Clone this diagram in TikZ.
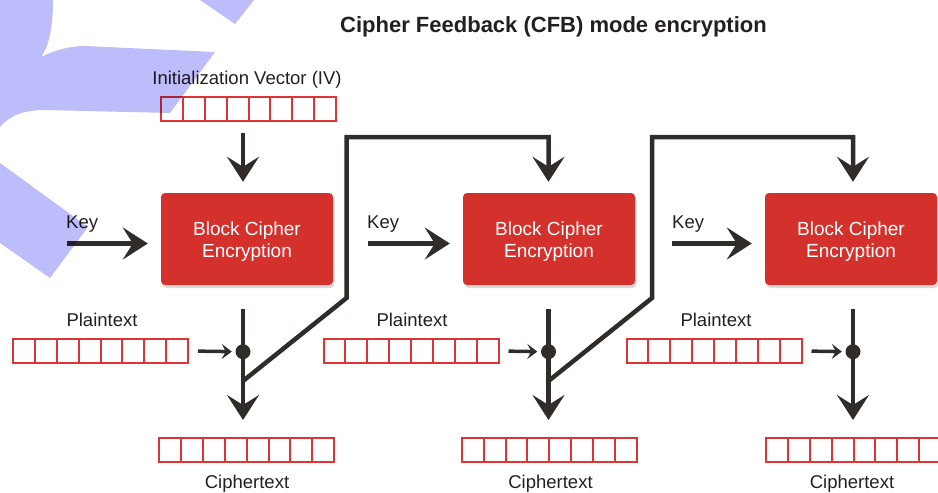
\documentclass[tikz,border=0pt]{standalone}
\usepackage{fontspec}
\setmainfont{Liberation Sans}
\usetikzlibrary{arrows.meta,shadows}
\definecolor{boxred}{RGB}{212,49,44}
\definecolor{regred}{RGB}{224,52,52}
\definecolor{ink}{RGB}{48,44,42}
\definecolor{txt}{RGB}{35,31,32}
\definecolor{wm}{RGB}{189,189,251}
\tikzset{
  register/.style={draw=regred, line width=2pt, minimum width=175pt, minimum height=24pt, inner sep=0pt,
    path picture={\foreach \i in {1,...,7}{\draw[regred,line width=2pt] ([xshift=\i*21.875pt]path picture bounding box.north west) -- ([xshift=\i*21.875pt]path picture bounding box.south west);}}},
  cipherbox/.style={fill=boxred, rounded corners=4pt, minimum width=172pt, minimum height=92pt, inner sep=0pt,
    drop shadow={shadow xshift=1.5pt, shadow yshift=-3pt, opacity=0.3}},
  boxtext/.style={text=white, font=\fontsize{19}{21.5}\selectfont, align=center, inner sep=0pt},
  lbl/.style={font=\fontsize{18.5}{22}\selectfont, text=txt, inner sep=0pt},
  bigarrow/.style={draw=ink, line width=4.5pt, -{Stealth[length=25pt,width=32pt,inset=10pt]}},
  smallarrow/.style={draw=ink, line width=3.5pt, -{Stealth[length=10pt,width=15pt,inset=4pt]}},
  dot/.style={circle, fill=ink, minimum size=15pt, inner sep=0pt}
}
\begin{document}
\begin{tikzpicture}[x=1pt,y=-1pt]
\useasboundingbox (0,0) rectangle (938,493);
% columns
\coordinate (col1) at (243,0);
\coordinate (col2) at (548.5,0);
\coordinate (col3) at (853,0);
% title
\node[font=\bfseries\fontsize{22}{26}\selectfont, text=txt, anchor=base, inner sep=0pt] (title) at (553.5,32) {Cipher Feedback (CFB) mode encryption};
% IV
\node[lbl, anchor=base] (ivlbl) at (247,84) {Initialization Vector (IV)};
\node[register] (iv) at (248.5,109) {};
% cipher boxes
\node[cipherbox] (bc1) at (247,239) {};
\node[cipherbox] (bc2) at (549,239) {};
\node[cipherbox] (bc3) at (851,239) {};
\node[boxtext] (bt1) at ([yshift=-2.5pt]bc1.center) {Block Cipher\\Encryption};
\node[boxtext] (bt2) at ([yshift=-2.5pt]bc2.center) {Block Cipher\\Encryption};
\node[boxtext] (bt3) at ([yshift=-2.5pt]bc3.center) {Block Cipher\\Encryption};
% keys
\node[lbl, anchor=base west] (key1) at (66,228) {Key};
\node[lbl, anchor=base west] (key2) at (367,228) {Key};
\node[lbl, anchor=base west] (key3) at (672,228) {Key};
\coordinate (k1s) at (67,243.5);
\coordinate (k2s) at (368,243.5);
\coordinate (k3s) at (672,243.5);
% plaintext
\node[lbl, anchor=base] (pl1) at (102,326.5) {Plaintext};
\node[lbl, anchor=base] (pl2) at (412,326.5) {Plaintext};
\node[lbl, anchor=base] (pl3) at (716,326.5) {Plaintext};
\node[register] (pt1) at (100.5,351) {};
\node[register] (pt2) at (411,351) {};
\node[register] (pt3) at (714,351) {};
% xor dots
\node[dot] (x1) at (243,351.7) {};
\node[dot] (x2) at (548.5,351.7) {};
\node[dot] (x3) at (853,351.7) {};
% ciphertext
\node[register] (ct1) at (246.7,450) {};
\node[register] (ct2) at (549.3,450) {};
\node[register] (ct3) at (853.5,450) {};
\node[lbl, anchor=base] (cl1) at (247,488.5) {Ciphertext};
\node[lbl, anchor=base] (cl2) at (550.5,488.5) {Ciphertext};
\node[lbl, anchor=base] (cl3) at (852,488.5) {Ciphertext};
% connectors
\draw[bigarrow, shorten <=11pt, shorten >=11pt] (iv.south -| col1) -- (bc1.north -| col1);
\draw[bigarrow, shorten >=13pt] (k1s) -- (bc1.west |- k1s);
\draw[bigarrow, shorten >=13pt] (k2s) -- (bc2.west |- k2s);
\draw[bigarrow, shorten >=13pt] (k3s) -- (bc3.west |- k3s);
\draw[bigarrow, shorten <=24pt, shorten >=17pt] (bc1.south -| col1) -- (ct1.north -| col1);
\draw[bigarrow, shorten <=24pt, shorten >=17pt] (bc2.south -| col2) -- (ct2.north -| col2);
\draw[bigarrow, shorten <=24pt, shorten >=17pt] (bc3.south -| col3) -- (ct3.north -| col3);
\draw[smallarrow, shorten <=9pt, shorten >=3.5pt] (pt1.east) -- (x1.west);
\draw[smallarrow, shorten <=9pt, shorten >=3.5pt] (pt2.east) -- (x2.west);
\draw[smallarrow, shorten <=9pt, shorten >=3.5pt] (pt3.east) -- (x3.west);
% feedback
\coordinate (j1) at (243,381);
\coordinate (f1) at (346.5,298);
\coordinate (t1) at (346.5,137);
\coordinate (j2) at (548.5,381);
\coordinate (f2) at (652,298);
\coordinate (t2) at (652,137);
\draw[bigarrow, shorten >=11pt] (j1) -- (f1) -- (t1) -| (bc2.north -| col2);
\draw[bigarrow, shorten >=11pt] (j2) -- (f2) -- (t2) -| (bc3.north -| col3);
% watermark, multiplied over the drawing
\begin{scope}[blend mode=multiply]
\fill[wm] (0,0) -- (53,0) .. controls (53,30) and (48,48) .. (41,57) .. controls (55,50) and (70,46) .. (85,46) -- (215,52) -- (170,113) -- (45,110) .. controls (25,110) and (10,115) .. (0,127) -- cycle;
\fill[wm] (0,163) -- (88,227) -- (50,278) -- (0,243) -- cycle;
\fill[wm] (200,0) -- (254,0) -- (235,24) -- cycle;
\end{scope}
\end{tikzpicture}
\end{document}
